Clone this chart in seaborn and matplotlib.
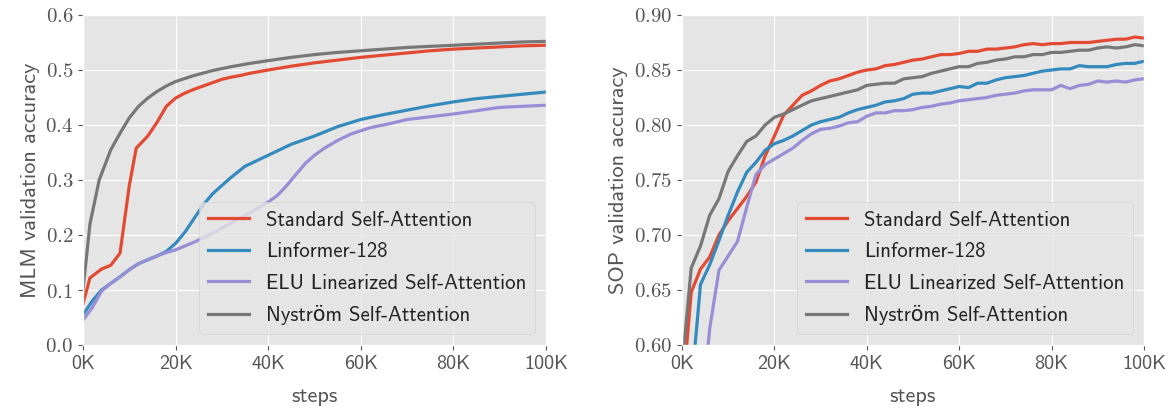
import matplotlib
matplotlib.use("Agg")
import matplotlib.pyplot as plt
import seaborn as sns
import pandas as pd
from matplotlib.ticker import FuncFormatter, MultipleLocator

# ---------------- data ----------------
series_names = ["Standard Self-Attention", "Linformer-128",
                "ELU Linearized Self-Attention", "Nyström Self-Attention"]

# MLM panel (steps in thousands)
mlm_std_x = [0, 1.5, 4, 6, 8, 10, 11.5, 14, 16, 18, 20, 22, 24, 26, 28, 30, 32, 34, 36, 40, 45, 50, 55, 60, 65, 70, 75, 80, 85, 90, 95, 100]
mlm_std_y = [0.075, 0.122, 0.138, 0.145, 0.167, 0.29, 0.358, 0.38, 0.405, 0.434, 0.449, 0.458, 0.465, 0.471, 0.477, 0.483, 0.487, 0.490, 0.494, 0.500, 0.507, 0.513, 0.518, 0.523, 0.527, 0.531, 0.535, 0.538, 0.540, 0.542, 0.544, 0.545]

mlm_lin_x = [0, 2, 4, 6, 8, 10, 12, 14, 16, 18, 20, 22, 24, 26, 28, 30, 32, 35, 40, 45, 50, 55, 60, 65, 70, 75, 80, 85, 90, 95, 100]
mlm_lin_y = [0.055, 0.08, 0.10, 0.112, 0.124, 0.137, 0.148, 0.155, 0.162, 0.170, 0.185, 0.205, 0.23, 0.255, 0.275, 0.29, 0.305, 0.325, 0.345, 0.365, 0.38, 0.397, 0.41, 0.419, 0.427, 0.435, 0.442, 0.448, 0.452, 0.456, 0.46]

mlm_elu_x = [0, 2, 4, 6, 8, 10, 12, 14, 16, 18, 20, 24, 28, 32, 36, 40, 42, 44, 46, 48, 50, 52, 55, 58, 62, 66, 70, 75, 80, 85, 90, 95, 100]
mlm_elu_y = [0.045, 0.068, 0.098, 0.112, 0.124, 0.137, 0.148, 0.155, 0.162, 0.168, 0.173, 0.187, 0.203, 0.222, 0.24, 0.26, 0.272, 0.29, 0.31, 0.33, 0.345, 0.357, 0.372, 0.384, 0.395, 0.402, 0.41, 0.415, 0.42, 0.426, 0.432, 0.434, 0.436]

mlm_nys_x = [0, 1.5, 3.5, 6, 8, 10, 12, 14, 16, 18, 20, 24, 28, 32, 36, 40, 45, 50, 55, 60, 65, 70, 75, 80, 85, 90, 95, 100]
mlm_nys_y = [0.10, 0.22, 0.30, 0.355, 0.385, 0.413, 0.434, 0.449, 0.461, 0.471, 0.479, 0.490, 0.499, 0.506, 0.512, 0.517, 0.523, 0.528, 0.532, 0.535, 0.538, 0.541, 0.543, 0.545, 0.547, 0.549, 0.551, 0.552]

# SOP panel (steps in thousands, every 2K)
sop_x = list(range(0, 101, 2))
sop_std_y = [0.55, 0.648, 0.669, 0.68, 0.70, 0.713, 0.724, 0.735, 0.748, 0.772, 0.790, 0.809, 0.818, 0.827, 0.831, 0.836, 0.840, 0.842, 0.845, 0.848, 0.850, 0.851, 0.854, 0.855, 0.857, 0.859, 0.860, 0.862, 0.864, 0.864, 0.865, 0.867, 0.867, 0.869, 0.869, 0.870, 0.871, 0.873, 0.874, 0.873, 0.874, 0.874, 0.875, 0.875, 0.875, 0.876, 0.877, 0.878, 0.878, 0.880, 0.879]
sop_lin_y = [0.50, 0.56, 0.655, 0.673, 0.695, 0.718, 0.739, 0.757, 0.766, 0.777, 0.783, 0.786, 0.790, 0.795, 0.800, 0.803, 0.805, 0.807, 0.811, 0.814, 0.816, 0.818, 0.821, 0.822, 0.824, 0.828, 0.829, 0.829, 0.831, 0.833, 0.835, 0.834, 0.838, 0.838, 0.841, 0.843, 0.844, 0.845, 0.847, 0.849, 0.850, 0.851, 0.851, 0.854, 0.853, 0.853, 0.853, 0.855, 0.856, 0.856, 0.858]
sop_elu_y = [0.45, 0.48, 0.53, 0.615, 0.668, 0.681, 0.694, 0.725, 0.755, 0.764, 0.769, 0.774, 0.779, 0.786, 0.792, 0.796, 0.797, 0.799, 0.802, 0.803, 0.808, 0.811, 0.811, 0.813, 0.813, 0.814, 0.816, 0.817, 0.819, 0.820, 0.822, 0.823, 0.824, 0.825, 0.827, 0.828, 0.829, 0.831, 0.832, 0.832, 0.832, 0.836, 0.833, 0.836, 0.837, 0.840, 0.839, 0.840, 0.839, 0.841, 0.842]
sop_nys_y = [0.58, 0.67, 0.69, 0.718, 0.733, 0.758, 0.772, 0.785, 0.79, 0.80, 0.807, 0.810, 0.814, 0.818, 0.822, 0.824, 0.826, 0.828, 0.830, 0.832, 0.836, 0.837, 0.838, 0.838, 0.842, 0.843, 0.844, 0.847, 0.849, 0.851, 0.853, 0.853, 0.856, 0.857, 0.859, 0.860, 0.862, 0.862, 0.864, 0.864, 0.866, 0.866, 0.867, 0.868, 0.868, 0.870, 0.871, 0.870, 0.871, 0.873, 0.872]

x_ticks = [0, 20, 40, 60, 80, 100]
x_tick_labels = ["0K", "20K", "40K", "60K", "80K", "100K"]

def build(pairs):
    rows = []
    for name, xs, ys in pairs:
        for x, y in zip(xs, ys):
            rows.append({"steps": x * 1000, "acc": y, "model": name})
    return pd.DataFrame(rows)

mlm_df = build([(series_names[0], mlm_std_x, mlm_std_y),
                (series_names[1], mlm_lin_x, mlm_lin_y),
                (series_names[2], mlm_elu_x, mlm_elu_y),
                (series_names[3], mlm_nys_x, mlm_nys_y)])
sop_df = build([(series_names[0], sop_x, sop_std_y),
                (series_names[1], sop_x, sop_lin_y),
                (series_names[2], sop_x, sop_elu_y),
                (series_names[3], sop_x, sop_nys_y)])

# ---------------- style ----------------
plt.style.use("ggplot")
plt.rcParams["mathtext.fontset"] = "cm"
plt.rcParams["font.family"] = ["cmss10", "DejaVu Sans"]
plt.rcParams["axes.unicode_minus"] = False
palette = ["#E24A33", "#348ABD", "#988ED5", "#777777"]

fig = plt.figure(figsize=(11.71, 4.12), dpi=100)
ax1 = fig.add_axes([83/1171, 1-345/412, (546-83)/1171, 330/412])
ax2 = fig.add_axes([682/1171, 1-345/412, (1144-682)/1171, 330/412])

def style(ax, df, ylim, step, fmt, ylabel):
    sns.lineplot(data=df, x="steps", y="acc", hue="model", hue_order=series_names,
                 palette=palette, linewidth=2.3, ax=ax, sort=False, estimator=None)
    ax.set_xlim(0, 100000)
    ax.set_ylim(*ylim)
    ax.set_xticks([t * 1000 for t in x_ticks])
    ax.set_xticklabels(x_tick_labels, fontsize=14.5, color="#444444")
    ax.yaxis.set_major_locator(MultipleLocator(step))
    ax.yaxis.set_major_formatter(FuncFormatter(lambda v, p: "$" + fmt.format(v) + "$"))
    ax.tick_params(axis="y", labelsize=15, colors="#555555")
    ax.tick_params(axis="x", colors="#555555")
    ax.set_xlabel("steps", fontsize=16, color="#555555", labelpad=10)
    ax.set_ylabel(ylabel, fontsize=16, color="#555555")
    leg = ax.legend(loc="lower right", fontsize=15, frameon=True,
                    handlelength=2.0, labelspacing=0.6, borderaxespad=0.55)
    leg.get_frame().set_facecolor("#E5E5E5")
    leg.get_frame().set_edgecolor("#CCCCCC")
    for t in leg.get_texts():
        t.set_color("#222222")

style(ax1, mlm_df, (0.0, 0.6), 0.1, "{:.1f}", "MLM validation accuracy")
style(ax2, sop_df, (0.6, 0.9), 0.05, "{:.2f}", "SOP validation accuracy")

fig.savefig("out.png", dpi=100)
